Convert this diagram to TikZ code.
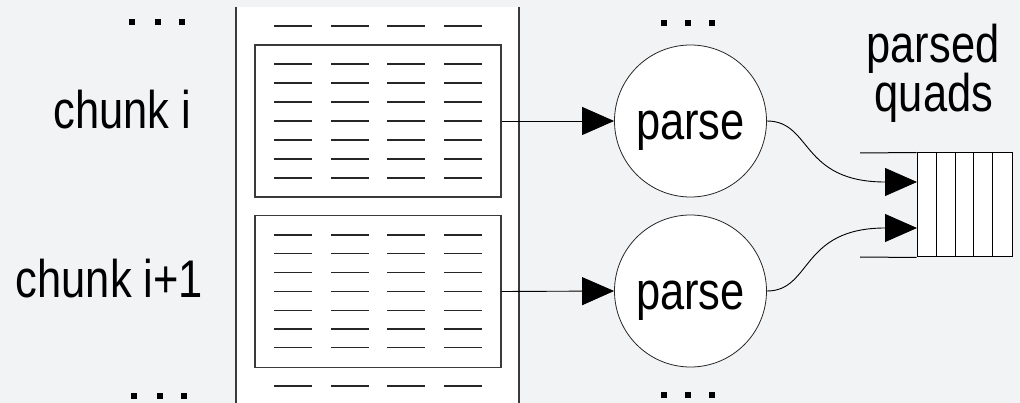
\documentclass[tikz,border=0pt]{standalone}
\usepackage{fontspec}
\setmainfont{Liberation Sans}
\newfontfamily\narrowsans[FakeStretch=0.82]{Liberation Sans}
\usetikzlibrary{arrows.meta}
\definecolor{pagebg}{HTML}{F2F3F5}
\definecolor{edge}{HTML}{3A3A3A}
\tikzset{
  label text/.style={font=\narrowsans\fontsize{53}{53}\selectfont, inner sep=0pt, anchor=base},
  chunkbox/.style={draw=edge, line width=1.2pt, fill=white, minimum width=246pt, minimum height=152pt, inner sep=0pt},
  parser/.style={circle, draw=black!85, line width=0.8pt, fill=white, minimum size=152pt, inner sep=0pt},
  rowdash/.style={draw=black!85, line width=1.3pt},
  dot/.style={fill=black, minimum width=5.5pt, minimum height=6pt, inner sep=0pt},
  feed/.style={draw=black, line width=0.9pt, -{Triangle[length=32pt,width=28pt]}},
  queuebox/.style={draw=black, line width=1pt, fill=white, minimum width=95pt, minimum height=104pt, inner sep=0pt},
}
\begin{document}
\begin{tikzpicture}[x=1pt, y=-1pt]
  \useasboundingbox (0,0) rectangle (1020,403);
  \fill[pagebg] (0,0) rectangle (1020,403);

  % the input stream column
  \fill[white] (236,7) rectangle (519,403);
  \draw[edge, line width=1.3pt] (236,7) -- (236,403);
  \draw[edge, line width=1.3pt] (519,7) -- (519,403);

  % chunks
  \node[chunkbox] (chunk1) at (378,121) {};
  \node[chunkbox] (chunk2) at (378,291.5) {};

  % record lines of the stream
  \foreach \x in {274,331,387,444} {
    \draw[rowdash] (\x,26) -- ++(38,0);
    \draw[rowdash] (\x,386) -- ++(38,0);
    \foreach \i in {0,...,6} {
      \draw[rowdash] (\x,64+19*\i) -- ++(38,0);
      \draw[rowdash] (\x,235+18.8*\i) -- ++(38,0);
    }
  }

  % labels
  \node[label text] (lab1) at (122.5,129) {chunk i};
  \node[label text] (lab2) at (109.5,298) {chunk i+1};
  \node[label text] (lab3) at (933,63) {parsed};
  \node[label text] (lab4) at (934,112) {quads};

  % ellipses
  \foreach \x/\n in {132/a,158/b,182/c} {
    \node[dot] (tl\n) at (\x,22) {};
    \node[dot] (bl\n) at (\x+2,396) {};
  }
  \foreach \x/\n in {664/a,688/b,712/c} {
    \node[dot] (tm\n) at (\x,23) {};
    \node[dot] (bm\n) at (\x,395) {};
  }

  % parsers
  \node[parser] (p1) at (690.5,121) {};
  \node[parser] (p2) at (690.5,291) {};
  \node[label text] (p1t) at (690.5,140) {parse};
  \node[label text] (p2t) at (690.5,310) {parse};

  % queue of parsed quads
  \node[queuebox] (queue) at (964.5,205) {};
  \foreach \x in {936,955,973,992} {
    \draw[black, line width=1pt] (\x,153) -- (\x,257);
  }
  \coordinate (qtopin) at (860,153);
  \coordinate (qbotin) at (860,257);
  \draw[black, line width=1pt] (qtopin) -- (queue.north west);
  \draw[black, line width=1pt] (qbotin) -- (queue.south west);
  \coordinate (qin1) at (917,182);
  \coordinate (qin2) at (917,228);

  % connectors
  \draw[feed] (chunk1.east) -- (p1.west);
  \draw[feed] (chunk2.east) -- (p2.west);
  \draw[feed] (p1.east) .. controls (812,121) and (800,182) .. (qin1);
  \draw[feed] (p2.east) .. controls (812,291) and (800,228) .. (qin2);
\end{tikzpicture}
\end{document}
